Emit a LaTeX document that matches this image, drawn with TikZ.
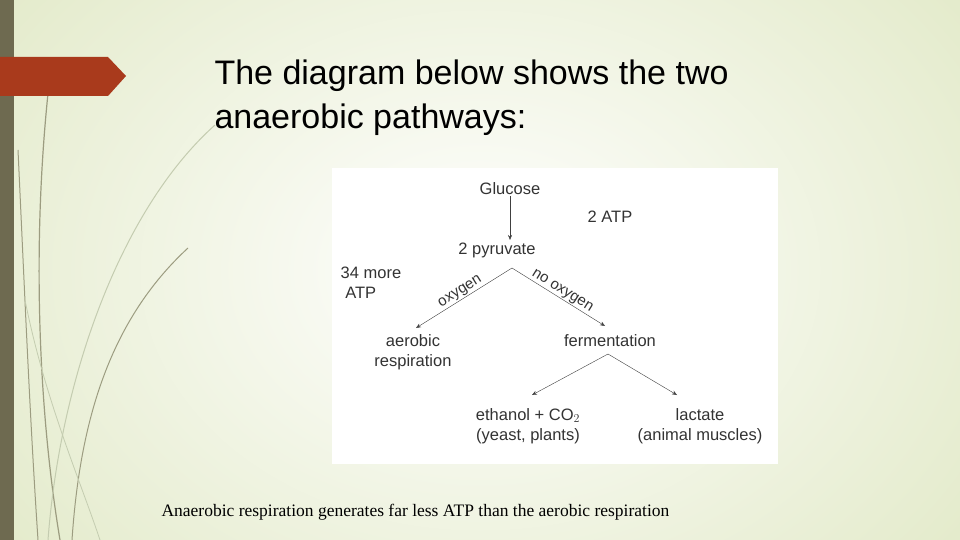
\documentclass[tikz,border=0pt]{standalone}
\usepackage{fontspec}
\setmainfont{Liberation Serif}
\setsansfont{Liberation Sans}
\usetikzlibrary{arrows.meta}
\usetikzlibrary{positioning}

\definecolor{bgright}{HTML}{E0E8C4}
\definecolor{strip}{HTML}{6E6A50}
\definecolor{flag}{HTML}{A93A1C}
\definecolor{swirl}{HTML}{9C9C80}
\definecolor{swirllight}{HTML}{C4CCB0}

\tikzset{
    hand/.style={font=\sffamily\fontsize{16.5}{20}\selectfont, text=black!80, align=center, inner sep=1pt},
    flow/.style={-{Stealth[length=5pt,width=4pt]}, black!75, thin},
}

\begin{document}
\begin{tikzpicture}[x=1pt,y=-1pt]
    \useasboundingbox (0,0) rectangle (960,540);
    % background
    \shade[inner color=white, outer color=bgright] (-200,-250) rectangle (1160,790);
    \fill[strip] (0,0) rectangle (14,540);
    % swirls
    \draw[swirl, line width=1.2pt] (50,75) .. controls (30,250) and (40,420) .. (60,540);
    \draw[swirl, line width=1pt] (18,150) .. controls (25,300) and (30,420) .. (38,540);
    \draw[swirl, line width=1pt] (188,248) .. controls (110,320) and (80,420) .. (72,540);
    \draw[swirllight, line width=1pt] (215,125) .. controls (120,210) and (60,380) .. (48,540);
    \draw[swirllight, line width=0.8pt] (25,300) .. controls (45,400) and (80,480) .. (100,540);
    % flag
    \fill[flag] (0,57) -- (108,57) -- (126,76) -- (108,96) -- (0,96) -- cycle;
    % title
    \node[anchor=west, font=\sffamily\fontsize{34}{44}\selectfont, align=left] (title) at (211,98)
        {The diagram below shows the two\\anaerobic pathways:};
    % diagram panel
    \fill[white] (332,168) rectangle (778,464);
    \node[hand] (glucose) at (510,189) {Glucose};
    \node[hand] (pyruvate) at (497,250) {2 pyruvate};
    \node[hand] (atp) at (610,217) {2 ATP};
    \node[hand, align=left] (more) at (371,283) {34 more\\\ ATP};
    \node[hand] (aerobic) at (413,352) {aerobic\\respiration};
    \node[hand] (ferment) at (610,341) {fermentation};
    \node[hand] (ethanol) at (528,426) {ethanol + CO$_2$\\(yeast, plants)};
    \node[hand] (lactate) at (700,426) {lactate\\(animal muscles)};
    \coordinate (split) at (512,268);
    \coordinate (fsplit) at (608,354);
    \draw[flow] (glucose) -- (510,240);
    \draw[flow] (split) -- (416,328) node[midway, above, sloped, hand, font=\sffamily\fontsize{15}{17}\selectfont] {oxygen};
    \draw[flow] (split) -- (605,326) node[midway, above, sloped, hand, font=\sffamily\fontsize{15}{17}\selectfont] {no oxygen};
    \draw[flow] (fsplit) -- (532,395);
    \draw[flow] (fsplit) -- (677,395);
    % caption
    \node[anchor=west, font=\fontsize{17.5}{20}\selectfont] (caption) at (158,512)
        {Anaerobic respiration generates far less ATP than the aerobic respiration};
\end{tikzpicture}
\end{document}
